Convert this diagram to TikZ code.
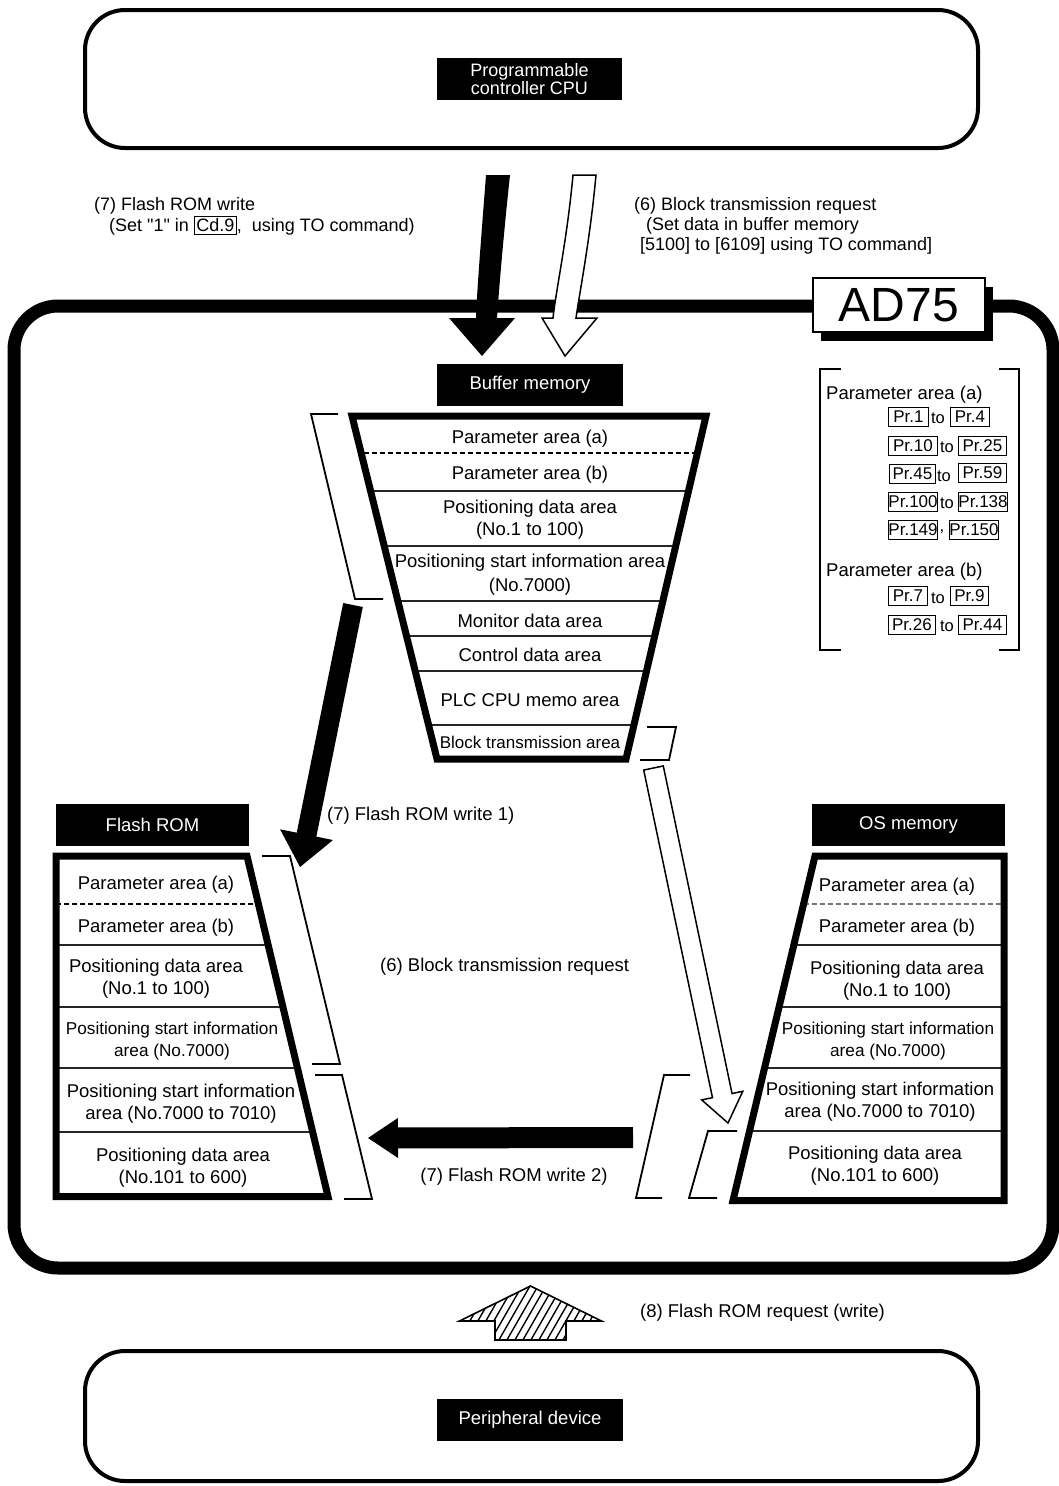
\documentclass[tikz,border=0pt]{standalone}
\usepackage{fontspec}
\setmainfont{Liberation Sans}[Ligatures=TeXOff]
\usetikzlibrary{calc}

% block arrow outline: tail, tip, shaft half-width, head half-width, head length
\newcommand{\blockpath}[5]{%
  ($(#1)!#3!90:(#2)$) --
  ($($(#2)!#5!(#1)$)!#3!90:(#2)$) --
  ($($(#2)!#5!(#1)$)!#4!90:(#2)$) --
  (#2) --
  ($($(#2)!#5!(#1)$)!#4!-90:(#2)$) --
  ($($(#2)!#5!(#1)$)!#3!-90:(#2)$) --
  ($(#1)!#3!-90:(#2)$) -- cycle}

% framed register name inside running text
\newcommand{\regbox}[1]{{\setlength{\fboxsep}{1.5pt}\setlength{\fboxrule}{0.9pt}\fbox{#1}}}

\begin{document}
\begin{tikzpicture}[x=1pt, y=-1pt,
  every node/.style={inner sep=0pt, font=\fontsize{18.5}{22}\selectfont},
  lbl/.style={fill=black, text=white, align=center, minimum height=42pt},
  memframe/.style={line width=7pt, line join=miter},
  divline/.style={line width=1.6pt, black!85},
  dashline/.style={line width=1.6pt, dash pattern=on 5pt off 3pt},
  bracket/.style={line width=1.8pt, line join=miter},
  prb/.style={draw, line width=0.9pt, minimum height=19pt, anchor=west,
              font=\fontsize{17}{17}\selectfont},
  small/.style={font=\fontsize{16.5}{16.5}\selectfont},
  toplbl/.style={anchor=west, font=\fontsize{18}{20}\selectfont},
  twoline/.style={align=center, font=\fontsize{18.5}{22}\selectfont},
  twolinesm/.style={align=center, font=\fontsize{17.2}{22}\selectfont}]
\useasboundingbox (0,0) rectangle (1059,1486);

% ---------------- programmable controller CPU ----------------
\draw[line width=4pt, rounded corners=40pt] (85,10) rectangle (978,148);
\node[lbl, minimum width=185pt, font=\fontsize{18}{17.5}\selectfont] (cpu) at (529.5,79)
  {Programmable\\controller CPU};

% ---------------- AD75 module frame ----------------
\draw[line width=13pt, rounded corners=44pt] (14,306) rectangle (1053,1268);
\fill (821,287) rectangle (993,341);
\node[draw, line width=2pt, fill=white, minimum width=172pt, minimum height=54pt,
      font=\fontsize{48}{48}\selectfont] (ad75) at (899,305) {AD75};

% ---------------- requests from the CPU ----------------
\fill (486,175) .. controls (481,240) and (477,290) .. (476,318) -- (449,318) -- (482,356)
  -- (515,318) -- (497,318) .. controls (499,290) and (503,240) .. (510,175) -- cycle;
\draw[fill=white, line width=1.5pt, line join=miter] (573,175) .. controls (567,240) and (556,290) .. (553,318)
  -- (542,318) -- (565,356) -- (597,318) -- (576,318)
  .. controls (580,290) and (590,240) .. (596,175) -- cycle;

\node[toplbl] (t7a) at (94,206) {(7) Flash ROM write};
\node[toplbl] (t7b) at (109,226) {(Set "1" in \regbox{Cd.9},\ \ using TO command)};
\node[toplbl] (t6a) at (634,206) {(6) Block transmission request};
\node[toplbl] (t6b) at (646,226) {(Set data in buffer memory};
\node[toplbl] (t6c) at (640,246) {[5100] to [6109] using TO command]};

% ---------------- buffer memory ----------------
\node[lbl, minimum width=186pt] (buf) at (530,385) {Buffer memory};
\coordinate (bTL) at (352,416);
\coordinate (bTR) at (706,416);
\coordinate (bBR) at (626,759);
\coordinate (bBL) at (437,759);
\begin{scope}
  \clip (bTL) -- (bTR) -- (bBR) -- (bBL) -- cycle;
  \draw[dashline] (300,453) -- (760,453);
  \foreach \yy in {491,546,601,636,671,725} \draw[divline] (300,\yy) -- (760,\yy);
\end{scope}
\draw[memframe] (bTL) -- (bTR) -- (bBR) -- (bBL) -- cycle;

\node (ba) at (530,439) {Parameter area (a)};
\node (bb) at (530,475) {Parameter area (b)};
\node[twoline] (bpd) at (530,520) {Positioning data area\\(No.1 to 100)};
\node[align=center, font=\fontsize{18.5}{24}\selectfont] (bps) at (530,575)
  {Positioning start information area\\(No.7000)};
\node (bmon) at (530,621) {Monitor data area};
\node (bctl) at (530,655) {Control data area};
\node (bplc) at (530,700) {PLC CPU memo area};
\node[font=\fontsize{17}{20}\selectfont] (bblk) at (530,742) {Block transmission area};

% brackets around buffer memory
\draw[bracket] (338,414) -- (311,414) -- (355,599) -- (383,599);
\draw[bracket] (647,727) -- (676,727) -- (669,760) -- (640,760);

% ---------------- parameter list ----------------
\draw[bracket] (841,369) -- (820,369) -- (820,650) -- (841,650);
\draw[bracket] (999,369) -- (1019,369) -- (1019,650) -- (999,650);
\node[anchor=west] (pla) at (826,395) {Parameter area (a)};
\node[prb, minimum width=40pt] (pr1) at (888,417) {Pr.1};
\node[small] (to1) at (938,418) {to};
\node[prb, minimum width=39pt] (pr4) at (950,417) {Pr.4};
\node[prb, minimum width=49pt] (pr10) at (888,446) {Pr.10};
\node[small] (to2) at (947,447) {to};
\node[prb, minimum width=48pt] (pr25) at (958,446) {Pr.25};
\node[prb, minimum width=46pt] (pr45) at (889,474) {Pr.45};
\node[small] (to3) at (944,476) {to};
\node[prb, minimum width=48pt] (pr59) at (958,473) {Pr.59};
\node[prb, minimum width=47pt] (pr100) at (888,502) {Pr.100};
\node[small] (to4) at (947,503) {to};
\node[prb, minimum width=48pt] (pr138) at (958,502) {Pr.138};
\node[prb, minimum width=48pt] (pr149) at (888,530) {Pr.149};
\node[small] (cm5) at (942,532) {,};
\node[prb, minimum width=48pt] (pr150) at (949,530) {Pr.150};
\node[anchor=west] (plb) at (826,572) {Parameter area (b)};
\node[prb, minimum width=39pt] (pr7) at (888,596) {Pr.7};
\node[small] (to6) at (938,598) {to};
\node[prb, minimum width=38pt] (pr9) at (950,596) {Pr.9};
\node[prb, minimum width=47pt] (pr26) at (888,625) {Pr.26};
\node[small] (to7) at (947,626) {to};
\node[prb, minimum width=48pt] (pr44) at (958,625) {Pr.44};

% ---------------- flash ROM ----------------
\node[lbl, minimum width=193pt] (flash) at (152.5,825) {Flash ROM};
\coordinate (fTL) at (56,856);
\coordinate (fTR) at (247,856);
\coordinate (fBR) at (328,1196.5);
\coordinate (fBL) at (56,1196.5);
\begin{scope}
  \clip (fTL) -- (fTR) -- (fBR) -- (fBL) -- cycle;
  \draw[dashline] (40,904) -- (350,904);
  \foreach \yy in {945,1007,1068,1132} \draw[divline] (40,\yy) -- (350,\yy);
\end{scope}
\draw[memframe] (fTL) -- (fTR) -- (fBR) -- (fBL) -- cycle;

\node (fa) at (156,885) {Parameter area (a)};
\node (fb) at (156,928) {Parameter area (b)};
\node[twoline] (fpd) at (156,978.5) {Positioning data area\\(No.1 to 100)};
\node[twolinesm] (fps) at (172,1041) {Positioning start information\\area (No.7000)};
\node[twoline] (fps2) at (181,1104) {Positioning start information\\area (No.7000 to 7010)};
\node[twoline] (fpd2) at (183,1168) {Positioning data area\\(No.101 to 600)};

\draw[bracket] (262,856) -- (290,856) -- (340,1064) -- (312,1064);
\draw[bracket] (315,1075) -- (342,1075) -- (372,1199) -- (344,1199);

% ---------------- OS memory ----------------
\node[lbl, minimum width=193pt] (osm) at (908.5,825) {OS memory};
\coordinate (oTL) at (815,856);
\coordinate (oTR) at (1004,856);
\coordinate (oBR) at (1004,1200.5);
\coordinate (oBL) at (733,1200.5);
\begin{scope}
  \clip (oTL) -- (oTR) -- (oBR) -- (oBL) -- cycle;
  \draw[dashline, black!55] (700,904) -- (1020,904);
  \foreach \yy in {945,1007,1068,1131} \draw[divline] (700,\yy) -- (1020,\yy);
\end{scope}
\draw[memframe] (oTL) -- (oTR) -- (oBR) -- (oBL) -- cycle;

\node (oa) at (897,887) {Parameter area (a)};
\node (ob) at (897,928) {Parameter area (b)};
\node[twoline] (opd) at (897,981) {Positioning data area\\(No.1 to 100)};
\node[twolinesm] (ops) at (888,1041.5) {Positioning start information\\area (No.7000)};
\node[twoline] (ops2) at (880,1102) {Positioning start information\\area (No.7000 to 7010)};
\node[twoline] (opd2) at (875,1165.5) {Positioning data area\\(No.101 to 600)};

\draw[bracket] (690,1075) -- (664,1075) -- (636,1198) -- (662,1198);
\draw[bracket] (737,1131) -- (708,1131) -- (689,1198) -- (717,1198);

% ---------------- transfers inside the module ----------------
\coordinate (w1tail) at (353,605);
\coordinate (w1tip) at (300,867);
\fill \blockpath{w1tail}{w1tip}{10pt}{27pt}{33pt};
\node[anchor=west] (l7w1) at (327,816) {(7) Flash ROM write 1)};

\coordinate (w6tail) at (653.5,768);
\coordinate (w6tip) at (728,1123);
\draw[fill=white, line width=1.5pt, line join=miter] \blockpath{w6tail}{w6tip}{10pt}{21pt}{28pt};
\node[anchor=west] (l6) at (380,967) {(6) Block transmission request};

\coordinate (w2tail) at (633,1137.5);
\coordinate (w2tip) at (368,1138);
\fill \blockpath{w2tail}{w2tip}{10.5pt}{20pt}{30pt};
\node (l7w2) at (514,1177) {(7) Flash ROM write 2)};

% ---------------- request from the peripheral device ----------------
\coordinate (h8tail) at (530.5,1340);
\coordinate (h8tip) at (530.5,1286);
\begin{scope}
  \clip \blockpath{h8tail}{h8tip}{35.5pt}{71pt}{35pt};
  \foreach \xx in {400,408,...,640} \draw[line width=1.4pt] (\xx,1345) -- ++(38,-66);
\end{scope}
\draw[line width=1.6pt, line join=miter] \blockpath{h8tail}{h8tip}{35.5pt}{71pt}{35pt};
\node[anchor=west] (l8) at (640,1313) {(8) Flash ROM request (write)};

\draw[line width=4pt, rounded corners=40pt] (85,1351) rectangle (978,1481);
\node[lbl, minimum width=186pt] (per) at (530,1420) {Peripheral device};

\end{tikzpicture}
\end{document}
